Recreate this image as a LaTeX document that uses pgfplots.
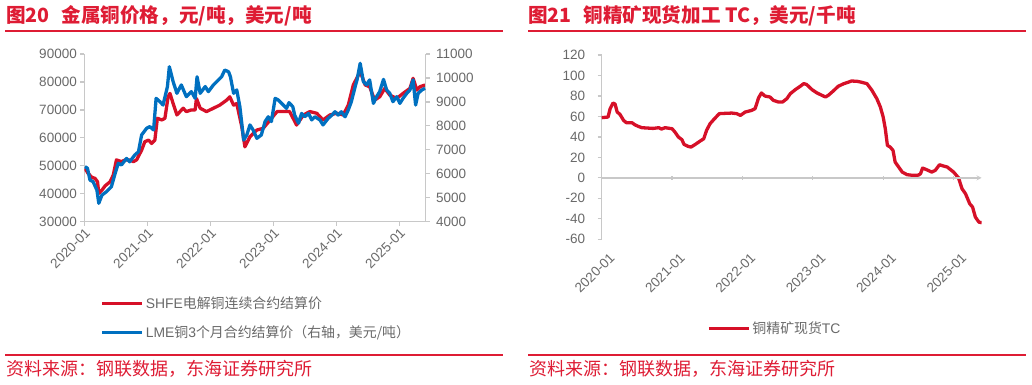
\documentclass[border=0pt]{standalone}
\usepackage{pgfplots}
\pgfplotsset{compat=1.18}
\usepackage{fontspec}
\setmainfont{Liberation Sans}
\newfontfamily\cjk{Noto Sans CJK SC}
\definecolor{tcred}{RGB}{214,16,40}
\definecolor{ttred}{RGB}{222,28,52}
\definecolor{tblue}{RGB}{0,112,192}
\definecolor{axgray}{RGB}{200,200,200}
\definecolor{txtgray}{RGB}{105,105,105}
\pgfplotsset{
  base/.style={
    scale only axis, anchor=south west,
    axis line style={axgray, line width=1.3pt, -},
    tick style={axgray, line width=1.2pt},
    tick align=outside, major tick length=4pt,
    ticklabel style={font=\fontsize{13.5}{13.5}\selectfont, text=txtgray},
    /pgf/number format/assume math mode=true,
    /pgf/number format/1000 sep={},
    scaled y ticks=false,
    xtick={2020,2021,2022,2023,2024,2025},
    xticklabels={2020-01,2021-01,2022-01,2023-01,2024-01,2025-01},
    xticklabel style={rotate=45, anchor=north east, inner sep=1pt},
    legend cell align=left,
    legend image code/.code={\draw[##1] (0pt,0pt) -- (40pt,0pt);},
  },
}
\begin{document}
\begin{tikzpicture}
\path[use as bounding box] (0,0) rectangle (1032pt,384pt);
% titles and rules
\node[anchor=west, inner sep=0pt, text=ttred] at (6pt,368pt) {\fontsize{19.6}{21}\cjk\bfseries 图20\hspace{0.6em}金属铜价格，元/吨，美元/吨};
\node[anchor=west, inner sep=0pt, text=ttred] at (528pt,368pt) {\fontsize{19.6}{21}\cjk\bfseries 图21\hspace{0.6em}铜精矿现货加工 TC，美元/千吨};
\draw[ttred, line width=1.4pt] (5pt,353pt) -- (503pt,353pt);
\draw[ttred, line width=1.4pt] (528pt,353pt) -- (1026pt,353pt);
\draw[ttred, line width=1.4pt] (5pt,29pt) -- (503pt,29pt);
\draw[ttred, line width=1.4pt] (528pt,29pt) -- (1026pt,29pt);
\node[anchor=west, inner sep=0pt, text=ttred] at (6pt,15pt) {\fontsize{18}{20}\cjk 资料来源：钢联数据，东海证券研究所};
\node[anchor=west, inner sep=0pt, text=ttred] at (529pt,15pt) {\fontsize{18}{20}\cjk 资料来源：钢联数据，东海证券研究所};

% ===== left chart =====
\begin{axis}[base, at={(84.3pt,162.3pt)}, width=341.4pt, height=167.7pt,
  xmin=2020, xmax=2025.42, ymin=30000, ymax=90000,
  ytick={30000,40000,50000,60000,70000,80000,90000},
  axis x line*=bottom, axis y line*=left]
\addplot[tcred, line width=3.3pt, line join=round] coordinates {
(2020.01,49100)(2020.06,47300)(2020.12,45900)(2020.17,45500)(2020.21,44300)(2020.23,40100)(2020.28,41300)(2020.33,42800)(2020.41,44300)(2020.46,46700)(2020.51,52100)(2020.59,51500)(2020.65,52100)(2020.72,52100)(2020.78,51500)(2020.83,52100)(2020.91,55600)(2020.96,58600)(2021.02,59200)(2021.07,58000)(2021.12,59200)(2021.16,67000)(2021.23,66400)(2021.28,67000)(2021.33,74700)(2021.36,75900)(2021.41,72300)(2021.47,68200)(2021.52,69400)(2021.57,70600)(2021.62,69400)(2021.70,70000)(2021.76,70000)(2021.78,74100)(2021.84,70600)(2021.94,69400)(2022.05,70600)(2022.15,71700)(2022.26,73500)(2022.31,74700)(2022.37,71700)(2022.42,72300)(2022.50,64000)(2022.55,56800)(2022.63,60400)(2022.74,62800)(2022.84,63400)(2022.95,66400)(2023.06,69400)(2023.16,69400)(2023.26,69400)(2023.37,64600)(2023.48,68200)(2023.58,69400)(2023.69,68800)(2023.79,66400)(2023.90,68200)(2024.01,68800)(2024.11,68200)(2024.19,71700)(2024.27,78900)(2024.38,83700)(2024.46,78900)(2024.53,78300)(2024.61,73500)(2024.69,74700)(2024.77,77700)(2024.85,75300)(2024.96,74100)(2025.06,75900)(2025.17,77700)(2025.22,81300)(2025.28,77100)(2025.33,78300)(2025.41,78900)
};
\end{axis}
\begin{axis}[base, at={(84.3pt,162.3pt)}, width=341.4pt, height=167.7pt,
  xmin=2020, xmax=2025.42, ymin=4000, ymax=11000,
  ytick={4000,5000,6000,7000,8000,9000,10000,11000},
  yticklabel style={xshift=3pt},
  axis x line=none, axis y line*=right,
  legend style={at={(0.047,-0.435)}, anchor=north west, draw=none, fill=none,
    font=\fontsize{13.9}{15}\selectfont, text=txtgray, row sep=12pt, inner sep=0pt}]
\addlegendimage{tcred, line width=3.3pt}
\addlegendentry{SHFE{\cjk 电解铜连续合约结算价}}
\addplot[tblue, line width=3.3pt, line join=round] coordinates {
(2020.01,6300)(2020.05,6230)(2020.09,5740)(2020.14,5670)(2020.20,5320)(2020.23,4770)(2020.28,5110)(2020.35,5250)(2020.43,5460)(2020.49,6020)(2020.54,6440)(2020.59,6370)(2020.67,6640)(2020.72,6500)(2020.80,6780)(2020.86,6920)(2020.91,7620)(2020.99,7900)(2021.04,7970)(2021.10,7830)(2021.14,9150)(2021.20,9010)(2021.25,8870)(2021.32,9640)(2021.35,10470)(2021.41,9850)(2021.47,9360)(2021.54,9710)(2021.62,9220)(2021.70,9430)(2021.76,9150)(2021.79,10050)(2021.84,9360)(2021.92,9640)(2021.97,9430)(2022.05,9710)(2022.13,9920)(2022.18,10050)(2022.23,10330)(2022.29,10260)(2022.32,10050)(2022.37,9360)(2022.42,9500)(2022.47,8800)(2022.53,7410)(2022.58,7620)(2022.63,8040)(2022.68,7830)(2022.74,7480)(2022.81,7620)(2022.87,8180)(2022.92,8380)(2022.97,8180)(2023.03,9150)(2023.08,9080)(2023.16,8870)(2023.21,8730)(2023.25,8970)(2023.31,8800)(2023.34,8450)(2023.40,8110)(2023.45,8520)(2023.50,8380)(2023.56,8520)(2023.61,8250)(2023.66,8380)(2023.74,8250)(2023.79,8040)(2023.87,8310)(2023.93,8450)(2023.98,8590)(2024.03,8450)(2024.08,8590)(2024.14,8380)(2024.19,8660)(2024.24,9010)(2024.30,9640)(2024.33,9920)(2024.38,10610)(2024.43,9850)(2024.48,9710)(2024.53,9920)(2024.59,8940)(2024.64,9220)(2024.69,9430)(2024.75,9940)(2024.80,9500)(2024.85,9360)(2024.90,9010)(2024.96,9220)(2025.01,8940)(2025.06,9150)(2025.12,9360)(2025.17,9500)(2025.22,9920)(2025.26,8870)(2025.30,9360)(2025.36,9500)(2025.41,9570)
};
\addlegendentry{LME{\cjk 铜}3{\cjk 个月合约结算价（右轴，美元/吨）}}
\end{axis}

% ===== right chart =====
\begin{axis}[base, at={(601.7pt,144.7pt)}, width=380pt, height=184.3pt,
  xmin=2020, xmax=2025.4, ymin=-60, ymax=120,
  ytick={-60,-40,-20,0,20,40,60,80,100,120},
  axis x line*=bottom, axis y line*=left,
  x axis line style={draw=none}, major x tick style={draw=none},
  xticklabel style={yshift=-10pt},
  yticklabel style={xshift=-9pt},
  legend style={at={(0.277,-0.435)}, anchor=north west, draw=none, fill=none,
    font=\fontsize{13.9}{15}\selectfont, text=txtgray, inner sep=0pt}]
\addplot[tcred, line width=3.3pt, line join=round] coordinates {
(2020.00,58.8)(2020.09,59.4)(2020.12,67.6)(2020.16,73.1)(2020.19,72.1)(2020.22,64.3)(2020.26,62)(2020.31,56.2)(2020.35,53.9)(2020.43,53.9)(2020.47,51.9)(2020.52,50.3)(2020.57,49)(2020.64,48.7)(2020.73,48.3)(2020.81,49)(2020.85,47.7)(2020.90,49)(2021.00,48)(2021.04,44.8)(2021.09,39.9)(2021.14,37.3)(2021.17,32.7)(2021.23,30.7)(2021.27,30.1)(2021.33,32.7)(2021.40,36)(2021.45,38.2)(2021.49,46.4)(2021.54,52.9)(2021.59,56.8)(2021.67,62.7)(2021.75,63)(2021.85,63.3)(2021.92,62.7)(2021.97,61)(2022.04,64.3)(2022.13,65.9)(2022.18,67.6)(2022.23,78.3)(2022.27,82.9)(2022.32,79.9)(2022.39,79)(2022.44,75.7)(2022.51,74.1)(2022.57,74.1)(2022.63,77.3)(2022.68,82.2)(2022.75,86.1)(2022.82,89.4)(2022.87,92)(2022.91,91.3)(2022.99,86.1)(2023.06,82.9)(2023.13,80.6)(2023.18,79)(2023.22,80.6)(2023.29,84.8)(2023.36,89.4)(2023.44,92)(2023.51,93.6)(2023.55,94.6)(2023.63,94.3)(2023.68,93.6)(2023.77,92)(2023.84,85.5)(2023.91,77.3)(2023.96,69.2)(2024.00,59.4)(2024.03,48)(2024.06,31.7)(2024.10,30.1)(2024.14,26.8)(2024.17,15.4)(2024.22,10.6)(2024.27,5.7)(2024.34,3.1)(2024.43,2.4)(2024.50,2.7)(2024.53,4)(2024.56,9.6)(2024.62,7.9)(2024.69,5.7)(2024.74,7.3)(2024.80,12.8)(2024.86,11.5)(2024.91,10.6)(2025.00,5.7)(2025.07,0.1)(2025.12,-10.6)(2025.17,-15.5)(2025.23,-25.3)(2025.27,-28.5)(2025.31,-38.3)(2025.36,-43.2)(2025.40,-43.8)
};
\addlegendentry{{\cjk 铜精矿现货}TC}
\end{axis}
\begin{axis}[base, at={(601.7pt,144.7pt)}, width=380pt, height=184.3pt,
  xmin=2020, xmax=2025.4, ymin=-60, ymax=120,
  axis x line=middle, axis y line=none, xticklabel=\empty]
\end{axis}
\end{tikzpicture}
\end{document}
